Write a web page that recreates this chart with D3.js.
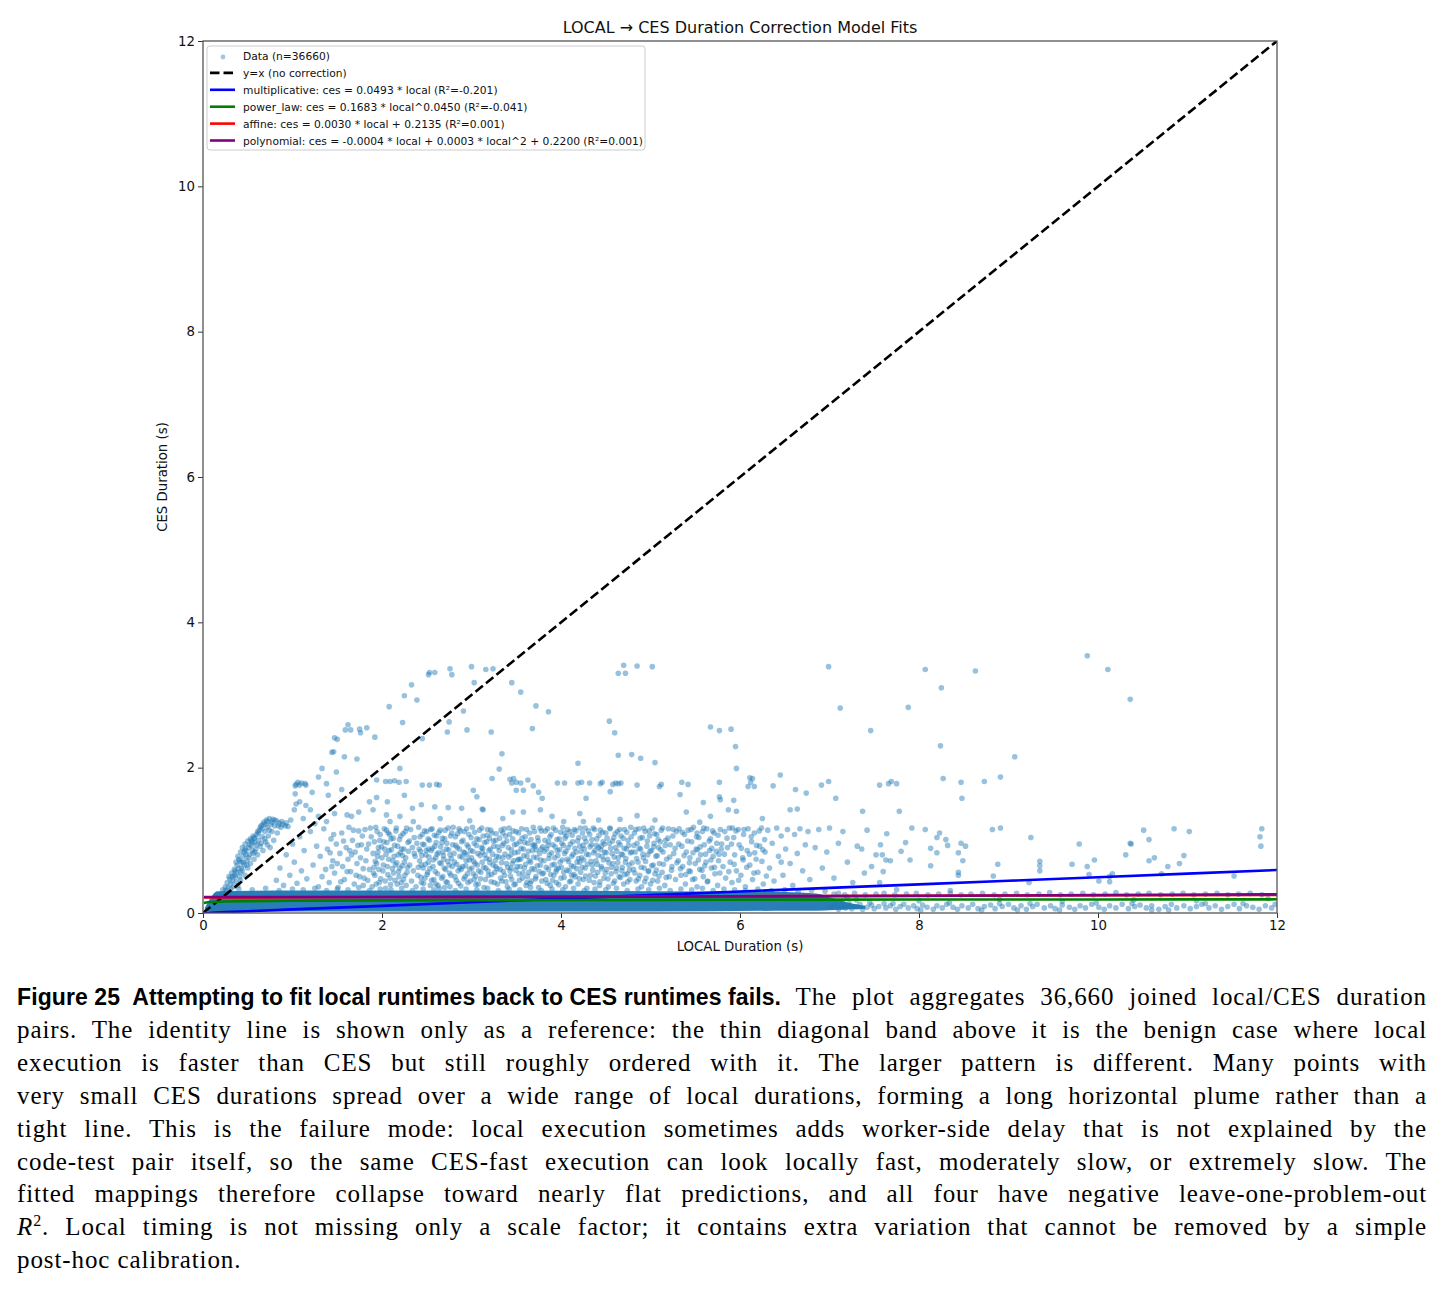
<!DOCTYPE html>
<html>
<head>
<meta charset="utf-8">
<script src="https://cdn.jsdelivr.net/npm/d3@7"></script>
<style>
  body { margin: 0; background: #fff; }
  #chart { position: absolute; left: 0; top: 0; }
  .cap { position: absolute; left: 17px; width: 1410px; font-family: "Liberation Serif", serif; font-size: 25px; color: #000;
         letter-spacing: 0.9px; text-align: justify; text-align-last: justify; white-space: nowrap; line-height: 33px; }
  .cap.last { text-align-last: left; }
  .figlab { display: inline-block; font-family: "Liberation Sans", Arial, sans-serif; font-weight: bold; font-size: 23px;
            letter-spacing: 0.1px; white-space: pre; }
  svg text { font-family: "DejaVu Sans", sans-serif; }
</style>
</head>
<body>
<svg id="chart" width="1444" height="965"></svg>
<div id="caption"></div>
<script>
// axis ticks
var xTicks = [0, 2, 4, 6, 8, 10, 12];
var yTicks = [0, 2, 4, 6, 8, 10, 12];

// solid part of the dense band near zero: [local, lower ces, upper ces]
var bandEnvelope = [[0.02,0.03,0.07],[0.08,0.02,0.20],[0.16,0.02,0.30],[1.0,0.02,0.31],[3.0,0.02,0.31],
  [5.0,0.02,0.30],[6.5,0.03,0.29],[6.85,0.03,0.27],[7.05,0.04,0.20],[7.25,0.05,0.13],[7.4,0.06,0.10]];

// top edge of band
var bandEdge = [[0.25,0.31],[0.4,0.33],[0.55,0.32],[0.7,0.34],[0.85,0.31],[1.0,0.33],[1.12,0.32],[1.25,0.34],[1.38,0.31],
  [1.5,0.33],[1.62,0.32],[1.74,0.35],[1.86,0.31],[1.98,0.33],[2.1,0.32],[2.22,0.34],[2.34,0.31],[2.46,0.33],[2.58,0.32],
  [2.7,0.35],[2.82,0.31],[2.94,0.33],[3.06,0.32],[3.18,0.34],[3.3,0.31],[3.42,0.33],[3.54,0.32],[3.66,0.35],[3.78,0.31],
  [3.9,0.33],[4.02,0.32],[4.14,0.34],[4.26,0.31],[4.38,0.33],[4.5,0.32],[4.62,0.34],[4.74,0.31],[4.86,0.33],[4.98,0.32],
  [5.1,0.34],[5.22,0.31],[5.34,0.33],[5.46,0.32],[5.58,0.34],[5.7,0.31],[5.82,0.33],[5.94,0.32],[6.06,0.31],[6.2,0.33],
  [6.35,0.31],[6.5,0.32],[6.65,0.30],[6.8,0.31],[6.95,0.30],[7.1,0.27],[7.2,0.22],[7.15,0.16]];

// band beyond 7 s, two rows
var tailLow = [[7.02,0.08],[7.06,0.12],[7.10,0.05],[7.13,0.10],[7.18,0.07],[7.22,0.13],[7.25,0.06],[7.30,0.09],[7.34,0.12],
  [7.37,0.05],[7.42,0.08],[7.47,0.11],[7.50,0.06],[7.55,0.09],[7.61,0.13],[7.63,0.07],[7.68,0.10],[7.74,0.05],[7.79,0.09],
  [7.83,0.12],[7.88,0.07],[7.94,0.10],[7.98,0.06],[8.04,0.11],[8.09,0.08],[8.16,0.05],[8.20,0.10],[8.26,0.07],[8.31,0.12],
  [8.38,0.08],[8.43,0.05],[8.48,0.10],[8.55,0.07],[8.60,0.12],[8.66,0.06],[8.73,0.09],[8.80,0.11],[8.85,0.06],[8.93,0.09],
  [9.00,0.12],[9.06,0.07],[9.14,0.10],[9.20,0.05],[9.27,0.09],[9.32,0.12],[9.40,0.07],[9.47,0.10],[9.52,0.06],[9.60,0.11],
  [9.68,0.08],[9.74,0.05],[9.80,0.10],[9.86,0.07],[9.93,0.12],[10.01,0.08],[10.07,0.05],[10.13,0.10],[10.20,0.07],
  [10.27,0.12],[10.34,0.06],[10.41,0.09],[10.47,0.11],[10.54,0.07],[10.60,0.10],[10.68,0.05],[10.75,0.09],[10.82,0.12],
  [10.88,0.07],[10.96,0.10],[11.03,0.06],[11.10,0.09],[11.16,0.12],[11.24,0.07],[11.31,0.10],[11.38,0.05],[11.45,0.09],
  [11.52,0.12],[11.58,0.06],[11.66,0.10],[11.73,0.08],[11.80,0.05],[11.87,0.10],[11.94,0.07],[9.1,0.04],[10.6,0.04],[8.9,0.13],
  [7.45,0.14],[7.71,0.13],[8.02,0.04],[8.34,0.14],[8.70,0.04],[9.24,0.13],[9.57,0.04],[9.98,0.14],[10.38,0.13],[10.79,0.04],
  [11.20,0.13],[11.62,0.13],[11.98,0.12]];
var tailHigh = [[7.05,0.26],[7.17,0.25],[7.28,0.27],[7.40,0.25],[7.52,0.26],[7.61,0.27],[7.73,0.25],[7.86,0.26],[7.97,0.27],
  [8.10,0.25],[8.22,0.26],[8.35,0.27],[8.47,0.25],[8.58,0.26],[8.71,0.27],[8.84,0.25],[8.96,0.26],[9.09,0.27],[9.21,0.25],
  [9.34,0.26],[9.46,0.28],[9.58,0.25],[9.70,0.26],[9.83,0.27],[9.95,0.25],[10.08,0.26],[10.20,0.28],[10.32,0.25],
  [10.45,0.26],[10.57,0.27],[10.70,0.25],[10.83,0.26],[10.95,0.27],[11.07,0.25],[11.20,0.26],[11.33,0.27],[11.45,0.25],
  [11.57,0.26],[11.70,0.27],[11.83,0.25],[7.3,0.18],[8.0,0.17],[8.9,0.19],[9.6,0.16],[10.4,0.18],[11.1,0.17],[11.9,0.2]];

// rising diagonal wedge near the origin
var wedgePts = [[0.22,0.32],[0.25,0.36],[0.27,0.42],[0.28,0.35],[0.30,0.47],[0.31,0.40],[0.32,0.55],[0.33,0.44],[0.34,0.36],
  [0.35,0.60],[0.36,0.50],[0.37,0.43],[0.38,0.66],[0.38,0.56],[0.39,0.38],[0.40,0.74],[0.40,0.62],[0.41,0.50],[0.42,0.84],
  [0.42,0.45],[0.43,0.70],[0.44,0.90],[0.44,0.58],[0.45,0.78],[0.46,0.66],[0.47,0.95],[0.47,0.52],[0.48,0.86],[0.49,0.72],
  [0.50,0.99],[0.50,0.62],[0.51,0.90],[0.52,0.80],[0.53,1.02],[0.53,0.68],[0.54,0.93],[0.55,0.86],[0.56,1.06],[0.57,0.74],
  [0.58,0.97],[0.59,0.88],[0.60,1.08],[0.61,0.80],[0.62,1.00],[0.63,1.14],[0.64,0.92],[0.65,1.20],[0.66,1.05],[0.67,0.86],
  [0.68,1.25],[0.69,1.12],[0.70,0.98],[0.71,1.28],[0.72,1.18],[0.73,1.06],[0.74,1.30],[0.75,0.90],[0.76,1.22],[0.77,1.12],
  [0.78,1.29],[0.79,1.00],[0.80,1.20],[0.82,1.27],[0.83,1.10],[0.85,1.24],[0.87,1.18],[0.89,1.22],[0.92,1.20],[0.95,1.19],
  [0.60,0.94],[0.55,0.98],[0.48,0.80],[0.36,0.58],[0.29,0.50],[0.43,0.62],[0.57,1.03],[0.62,1.10],[0.66,1.16],[0.70,1.22],
  [0.52,0.94],[0.46,0.84],[0.41,0.72],[0.35,0.52],[0.26,0.30],[0.31,0.33],[0.33,0.50],[0.37,0.70],[0.39,0.78],[0.42,0.56],
  [0.45,0.70],[0.47,0.88],[0.49,0.66],[0.51,0.76],[0.54,1.00],[0.56,0.82],[0.58,1.04],[0.61,1.12],[0.64,1.18],[0.67,1.22],
  [0.69,1.02],[0.72,1.26],[0.74,1.14],[0.77,1.25],[0.80,1.28],[0.84,1.20],[0.88,1.26],[0.93,1.24],[0.72,0.94],[0.65,0.96],
  [0.58,0.84]];

// main plume between 0.35 s and 1.2 s
var cloudPts = [[0.82,0.45],[0.86,0.62],[0.9,0.38],[0.93,0.80],[0.97,0.52],[1.0,0.95],[1.02,0.70],[1.05,0.41],[1.08,1.05],
  [1.1,0.58],[1.13,0.86],[1.16,0.47],[1.2,1.12],[1.23,0.66],[1.27,0.92],[1.29,0.36],
  [1.31,0.78],[1.33,0.50],[1.35,1.16],[1.37,0.60],[1.39,0.88],[1.41,0.42],[1.43,1.02],[1.45,0.72],[1.47,0.55],[1.49,0.95],
  [1.51,0.35],[1.53,0.82],[1.55,1.10],[1.56,0.64],[1.58,0.46],[1.60,0.90],[1.62,0.74],[1.63,1.18],[1.65,0.57],[1.67,1.00],
  [1.69,0.40],[1.70,0.84],[1.72,0.68],[1.74,1.13],[1.75,0.50],[1.77,0.94],[1.79,0.61],[1.79,0.38],[1.66,0.80],[1.44,0.64],
  [1.81,1.15],[1.82,0.72],[1.84,0.45],[1.85,0.95],[1.86,0.60],[1.88,1.05],[1.89,0.36],[1.90,0.82],[1.92,0.52],[1.93,1.18],
  [1.94,0.68],[1.96,0.90],[1.97,0.42],[1.98,1.08],[2.00,0.76],[2.01,0.58],[2.02,0.98],[2.04,0.34],[2.05,1.14],[2.06,0.64],
  [2.08,0.86],[2.09,0.48],[2.10,1.02],[2.12,0.72],[2.13,0.55],[2.14,0.93],[2.16,1.17],[2.17,0.40],[2.18,0.80],[2.20,0.62],
  [2.21,1.06],[2.22,0.88],[2.24,0.46],[2.25,0.70],[2.26,1.12],[2.28,0.56],[2.29,0.97],[2.27,0.38],[2.15,0.66],[2.03,0.88],
  [1.91,0.63],[2.19,0.50],[2.07,1.10],[1.95,0.78],[2.23,0.79],
  [2.31,0.66],[2.32,1.15],[2.33,0.44],[2.34,0.90],[2.35,0.58],[2.36,1.04],[2.37,0.78],[2.38,0.36],[2.39,0.96],[2.40,0.52],
  [2.41,1.18],[2.42,0.72],[2.43,0.85],[2.44,0.42],[2.45,1.08],[2.46,0.62],[2.47,0.94],[2.48,0.48],[2.49,0.80],[2.50,1.12],
  [2.51,0.56],[2.52,0.70],[2.53,1.00],[2.54,0.38],[2.55,0.86],[2.56,1.16],[2.57,0.64],[2.58,0.46],[2.59,0.92],[2.60,0.76],
  [2.61,1.06],[2.62,0.54],[2.63,0.83],[2.64,0.34],[2.65,1.14],[2.66,0.68],[2.67,0.97],[2.68,0.50],[2.69,0.74],[2.70,1.02],
  [2.71,0.60],[2.72,0.88],[2.73,0.42],[2.74,1.17],[2.75,0.66],[2.76,0.80],[2.77,0.52],[2.78,1.10],[2.79,0.94],[2.44,0.66],
  [2.52,0.88],[2.60,0.40],[2.68,0.84],[2.36,0.82],[2.76,0.36],
  [2.81,0.70],[2.82,1.05],[2.83,0.45],[2.84,0.90],[2.85,0.58],[2.86,1.16],[2.87,0.78],[2.88,0.37],[2.89,0.98],[2.90,0.64],
  [2.91,0.84],[2.92,1.12],[2.93,0.50],[2.94,0.72],[2.95,0.94],[2.96,0.42],[2.97,1.08],[2.98,0.60],[2.99,0.86],[3.00,0.76],
  [3.01,1.18],[3.02,0.54],[3.03,0.96],[3.04,0.68],[3.05,0.39],[3.06,1.02],[3.07,0.82],[3.08,0.58],[3.09,1.14],[3.10,0.47],
  [3.11,0.90],[3.12,0.70],[3.13,1.06],[3.14,0.35],[3.15,0.80],[3.16,0.62],[3.17,0.98],[3.18,1.15],[3.19,0.52],[3.20,0.74],
  [3.21,0.88],[3.22,0.43],[3.23,1.10],[3.24,0.66],[3.25,0.92],[3.26,0.56],[3.27,1.00],[3.28,0.78],[3.29,0.40],[2.87,0.62],
  [2.95,0.80],[3.03,0.46],[3.12,0.84],[3.20,1.03],[3.27,0.64],
  [3.31,0.86],[3.32,0.60],[3.33,1.14],[3.34,0.44],[3.35,0.76],[3.36,0.96],[3.37,0.52],[3.38,1.06],[3.39,0.68],[3.40,0.36],
  [3.41,0.90],[3.42,1.17],[3.43,0.58],[3.44,0.80],[3.45,0.46],[3.46,1.02],[3.47,0.72],[3.48,0.94],[3.49,0.40],[3.50,1.12],
  [3.51,0.64],[3.52,0.84],[3.53,0.54],[3.54,0.98],[3.55,0.74],[3.56,1.16],[3.57,0.48],[3.58,0.88],[3.59,0.62],[3.60,1.05],
  [3.61,0.38],[3.62,0.78],[3.63,0.96],[3.64,0.56],[3.65,1.10],[3.66,0.70],[3.67,0.44],[3.68,0.86],[3.69,1.18],[3.70,0.60],
  [3.71,0.92],[3.72,0.50],[3.73,0.76],[3.74,1.04],[3.75,0.35],[3.76,0.82],[3.77,0.66],[3.78,1.13],[3.79,0.54],[3.35,1.10],
  [3.44,0.62],[3.53,0.74],[3.62,0.42],[3.70,0.94],[3.78,0.88],
  [3.81,0.72],[3.82,1.00],[3.83,0.46],[3.84,0.88],[3.85,1.16],[3.86,0.60],[3.87,0.80],[3.88,0.38],[3.89,1.08],[3.90,0.66],
  [3.91,0.94],[3.92,0.52],[3.93,0.76],[3.94,1.14],[3.95,0.42],[3.96,0.86],[3.97,0.62],[3.98,1.02],[3.99,0.70],[4.00,0.48],
  [4.01,0.96],[4.02,1.18],[4.03,0.56],[4.04,0.82],[4.05,0.36],[4.06,1.06],[4.07,0.74],[4.08,0.90],[4.09,0.58],[4.10,1.12],
  [4.11,0.44],[4.12,0.78],[4.13,0.98],[4.14,0.64],[4.15,1.15],[4.16,0.50],[4.17,0.84],[4.18,0.70],[4.19,0.40],[4.20,1.04],
  [4.21,0.92],[4.22,0.56],[4.23,0.76],[4.24,1.10],[4.25,0.46],[4.26,0.88],[4.27,0.62],[4.28,0.98],[4.29,0.34],[3.86,0.98],
  [3.95,0.60],[4.04,1.10],[4.12,0.52],[4.21,0.70],[4.27,1.17],
  [4.31,0.80],[4.32,1.08],[4.33,0.52],[4.34,0.94],[4.35,0.66],[4.36,1.17],[4.37,0.42],[4.38,0.86],[4.39,0.72],[4.40,1.02],
  [4.41,0.56],[4.42,0.90],[4.43,0.38],[4.44,1.14],[4.45,0.64],[4.46,0.78],[4.47,0.98],[4.48,0.48],[4.49,0.84],[4.50,1.10],
  [4.51,0.60],[4.52,0.74],[4.53,0.36],[4.54,0.96],[4.55,1.16],[4.56,0.54],[4.57,0.82],[4.58,0.68],[4.59,1.04],[4.60,0.44],
  [4.61,0.90],[4.62,0.62],[4.63,1.12],[4.64,0.76],[4.65,0.50],[4.66,0.94],[4.67,1.06],[4.68,0.58],[4.69,0.80],[4.70,0.40],
  [4.71,1.15],[4.72,0.70],[4.73,0.88],[4.74,0.54],[4.75,1.00],[4.76,0.66],[4.77,0.46],[4.78,1.18],[4.79,0.84],[4.45,0.92],
  [4.81,0.60],[4.82,1.10],[4.83,0.84],[4.84,0.44],[4.85,0.96],[4.86,0.70],[4.87,1.16],[4.88,0.52],[4.89,0.88],[4.90,0.36],
  [4.91,1.04],[4.92,0.76],[4.93,0.62],[4.94,1.12],[4.95,0.48],[4.96,0.92],[4.97,0.80],[4.98,0.58],[4.99,1.06],[5.00,0.40],
  [5.01,0.86],[5.02,1.17],[5.03,0.66],[5.04,0.96],[5.05,0.54],[5.06,0.78],[5.07,1.08],[5.08,0.44],[5.09,0.90],[5.10,0.68],
  [5.12,1.14],[5.13,0.56],[5.14,0.84],[5.16,0.38],[5.17,1.00],[5.18,0.74],[5.20,1.16],[5.21,0.50],[5.22,0.94],[5.24,0.64],
  [5.25,1.06],[5.26,0.82],[5.28,0.46],[5.29,1.12],[5.11,0.98],
  [5.31,0.72],[5.32,1.16],[5.34,0.52],[5.35,0.92],[5.36,0.64],[5.38,1.08],[5.39,0.40],[5.40,0.84],[5.42,1.14],[5.43,0.58],
  [5.44,0.76],[5.46,0.98],[5.47,0.46],[5.48,1.18],[5.50,0.68],[5.51,0.88],[5.52,0.36],[5.54,1.04],[5.55,0.60],[5.56,0.80],
  [5.58,1.12],[5.59,0.50],[5.60,0.94],[5.62,0.70],[5.63,1.16],[5.64,0.44],[5.66,0.86],[5.67,1.02],[5.68,0.62],[5.70,0.78],
  [5.71,1.10],[5.72,0.54],[5.74,0.96],[5.75,0.38],[5.76,0.72],[5.78,1.15],[5.79,0.88],[5.52,1.10],
  [5.81,0.64],[5.83,1.12],[5.84,0.48],[5.86,0.90],[5.88,1.17],[5.89,0.70],[5.91,0.42],[5.93,1.04],[5.94,0.80],[5.96,0.58],
  [5.98,1.15],[5.99,0.94],[6.01,0.52],[6.03,0.76],[6.04,1.08],[6.06,0.36],[6.08,0.86],[6.09,1.16],[6.11,0.66],[6.13,0.98],
  [6.14,0.46],[6.16,1.10],[6.18,0.74],[6.20,0.56],[6.22,0.92],[6.24,1.17],[6.26,0.40],[6.28,0.84],
  [6.31,1.14],[6.33,0.62],[6.36,0.96],[6.38,0.44],[6.41,1.17],[6.43,0.78],[6.46,1.06],[6.48,0.52],[6.51,0.88],[6.53,1.15],
  [6.56,0.68],[6.59,0.38],[6.61,1.08],[6.64,0.82],[6.67,1.16],[6.70,0.58],[6.73,0.94],[6.76,1.12],[6.78,0.46],[6.46,0.70],
  [6.84,0.90],[6.88,1.15],[6.92,0.62],[6.97,0.84],[7.00,1.17],[7.05,0.48],[7.10,0.96],[7.15,1.12],[7.20,0.70],[7.26,0.42],
  [7.31,0.92],[7.36,0.88],[7.42,1.14],[7.47,0.64],[7.52,0.80],[7.57,0.94]];

// second pass over the densest part of the plume
var cloudPts2 = [[1.42,0.83],[1.46,1.08],[1.50,0.68],[1.54,0.43],[1.57,0.99],[1.61,0.57],[1.64,0.86],[1.68,1.14],[1.71,0.52],
  [1.73,0.93],[1.76,0.76],[1.78,1.06],[1.80,0.48],[1.83,0.88],[1.87,1.17],
  [1.905,0.55],[1.915,0.98],[1.925,0.71],[1.935,0.40],[1.945,1.12],[1.955,0.84],[1.965,0.60],[1.975,1.00],[1.985,0.47],
  [1.995,0.91],[2.015,0.66],[2.025,1.16],[2.035,0.44],[2.045,0.81],[2.055,0.97],[2.065,0.53],[2.075,0.74],[2.085,1.08],
  [2.095,0.39],[2.105,0.87],[2.115,0.61],[2.125,1.03],[2.135,0.78],[2.145,0.45],[2.155,1.13],[2.165,0.69],[2.175,0.92],
  [2.185,0.57],[2.195,1.01],[2.205,0.83],[2.215,0.42],[2.225,0.65],[2.235,1.09],[2.245,0.88],[2.255,0.52],[2.265,0.76],
  [2.275,1.17],[2.285,0.63],[2.295,0.85],[2.305,0.99],
  [2.405,0.63],[2.415,0.88],[2.425,1.05],[2.435,0.49],[2.445,0.79],[2.455,0.95],[2.465,0.41],[2.475,1.13],[2.485,0.67],
  [2.495,0.86],[2.505,0.53],[2.515,1.02],[2.525,0.77],[2.535,0.61],[2.545,1.15],[2.555,0.45],[2.565,0.89],[2.575,0.73],
  [2.585,1.07],[2.595,0.57],[2.605,0.97],[2.615,0.81],[2.625,0.38],[2.635,1.11],[2.645,0.69],[2.655,0.91],[2.665,0.48],
  [2.675,1.03],[2.685,0.79],[2.695,0.62],[2.705,1.14],[2.715,0.43],[2.725,0.96],[2.735,0.71],[2.745,0.87],[2.755,0.55],
  [2.765,1.06],[2.775,0.75],[2.785,0.64],[2.795,1.18],[2.805,0.82],[2.815,0.50],[2.825,0.93],[2.835,0.67],[2.845,1.09],
  [2.855,0.41],[2.865,0.88],[2.875,1.13],[2.885,0.60],[2.895,0.77],[2.905,1.00],[2.915,0.47],[2.925,0.83],[2.935,0.65],
  [2.945,1.16],[2.955,0.54],[2.965,0.91],[2.975,0.73],[2.985,0.44],[2.995,1.04],[3.005,0.62],[3.015,0.85],[3.025,0.71],
  [3.035,1.11],[3.045,0.51],[3.055,0.93],[3.065,0.66],[3.075,0.40],[3.085,1.01],[3.095,0.79],[3.105,0.56],[3.115,1.17],
  [3.125,0.89],[3.135,0.63],[3.145,0.97],[3.155,0.46],[3.165,0.75],[3.175,1.07],[3.185,0.58],[3.195,0.86],[3.205,0.69],
  [3.215,1.14],[3.225,0.53],[3.235,0.81],[3.245,0.99],[3.255,0.42],[3.265,0.72],[3.275,1.09],[3.285,0.61],[3.295,0.91],
  [3.305,0.77],[3.315,1.03],[3.325,0.48],[3.335,0.69],[3.345,0.93],[3.355,0.57],[3.365,1.16],[3.375,0.81],[3.385,0.43],
  [3.395,0.99],[3.405,0.63],[3.415,0.77],[3.425,1.08],[3.435,0.51],[3.445,0.87],[3.455,0.68],[3.465,1.13],[3.475,0.39],
  [3.485,0.83],[3.495,0.59],[3.505,0.95],[3.515,0.73],[3.525,1.10],[3.535,0.45],[3.545,0.64],[3.555,0.89],[3.565,1.03],
  [3.575,0.55],[3.585,0.79],[3.595,0.97],[3.605,0.67],[3.615,1.15],[3.625,0.50],[3.635,0.85],[3.645,0.72],[3.655,0.41],
  [3.665,1.01],[3.675,0.61],[3.685,0.93],[3.695,0.77],[3.705,1.12],[3.715,0.47],[3.725,0.87],[3.735,0.65],[3.745,0.99],
  [3.755,0.57],[3.765,1.17],[3.775,0.73],[3.785,0.44],[3.795,0.91],
  [3.805,0.55],[3.815,0.85],[3.825,1.13],[3.835,0.63],[3.845,0.41],[3.855,0.93],[3.865,0.75],[3.875,1.05],[3.885,0.53],
  [3.895,0.83],[3.905,0.45],[3.915,1.17],[3.925,0.67],[3.935,0.91],[3.945,0.57],[3.955,1.01],[3.965,0.79],[3.975,0.39],
  [3.985,0.87],[3.995,1.11],[4.005,0.63],[4.015,0.73],[4.025,0.93],[4.035,0.49],[4.045,1.03],[4.055,0.85],[4.065,0.59],
  [4.075,1.15],[4.085,0.71],[4.095,0.43],[4.105,0.95],[4.115,0.65],[4.125,1.07],[4.135,0.81],[4.145,0.53],[4.155,0.89],
  [4.165,1.13],[4.175,0.61],[4.185,0.99],[4.195,0.75],[4.205,0.47],[4.215,1.17],[4.225,0.85],[4.235,0.63],[4.245,0.93],
  [4.255,0.73],[4.265,1.03],[4.275,0.51],[4.285,0.81],[4.295,0.67],
  [4.305,1.13],[4.315,0.45],[4.325,0.91],[4.335,0.71],[4.345,1.01],[4.355,0.59],[4.365,0.83],[4.375,1.15],[4.385,0.51],
  [4.395,0.93],[4.405,0.67],[4.415,0.79],[4.425,1.07],[4.435,0.43],[4.445,0.87],[4.455,0.61],[4.465,1.11],[4.475,0.73],
  [4.485,0.95],[4.495,0.55],[4.505,0.83],[4.515,1.03],[4.525,0.47],[4.535,0.69],[4.545,1.17],[4.555,0.89],[4.565,0.63],
  [4.575,0.99],[4.585,0.41],[4.595,0.77],[4.605,1.09],[4.615,0.57],[4.625,0.85],[4.635,0.69],[4.645,0.97],[4.655,1.15],
  [4.665,0.49],[4.675,0.81],[4.685,0.63],[4.695,1.03],[4.705,0.89],[4.715,0.53],[4.725,0.75],[4.735,1.11],[4.745,0.43],
  [4.755,0.93],[4.765,0.59],[4.775,0.83],[4.785,1.05],[4.795,0.69],
  [4.815,0.93],[4.825,0.55],[4.835,1.15],[4.845,0.75],[4.865,0.47],[4.875,0.89],[4.885,1.03],[4.895,0.63],[4.915,0.81],
  [4.925,1.17],[4.935,0.43],[4.945,0.71],[4.965,0.99],[4.975,0.57],[4.985,1.13],[4.995,0.85],[5.015,0.65],[5.025,0.45],
  [5.035,0.91],[5.045,1.09],[5.065,0.59],[5.075,0.79],[5.085,1.01],[5.095,0.51],[5.115,0.87],[5.135,1.17],[5.145,0.67],
  [5.165,0.93],[5.175,0.49],[5.195,1.03],[5.215,0.77],[5.235,0.59],[5.255,1.15],[5.275,0.89],[5.295,0.69],
  [5.315,0.95],[5.335,0.61],[5.355,1.11],[5.375,0.79],[5.395,0.53],[5.415,0.99],[5.435,0.69],[5.455,1.15],[5.475,0.83],
  [5.495,0.47],[5.515,1.05],[5.535,0.73],[5.555,0.91],[5.575,0.59],[5.595,1.17],[5.615,0.81],[5.635,0.43],[5.655,0.99],
  [5.675,0.73],[5.695,1.13],[5.715,0.63],[5.735,0.85],[5.755,1.07],[5.775,0.55],[5.795,0.95],[5.445,0.57],[5.525,0.87],
  [5.605,0.65],[5.685,0.89],[5.765,0.81],
  [5.825,0.81],[5.855,1.03],[5.875,0.57],[5.905,0.95],[5.935,0.67],[5.955,1.13],[5.985,0.45],[6.015,0.89],[6.045,1.15],
  [6.075,0.63],[6.105,0.81],[6.125,1.05],[6.155,0.55],[6.185,0.93],[6.215,1.13],[6.245,0.71],[6.275,1.01],[6.295,0.51],
  [5.915,1.17],[6.035,0.73],[6.165,0.83],[6.255,0.87]];

// sparse points to the right of the plume
var tailPts = [[7.59,0.80],[7.63,0.73],[7.68,0.72],[7.80,0.85],[7.90,0.73],[8.13,0.65],[8.20,0.83],[8.32,0.93],[8.44,0.83],
  [8.49,0.72],[8.44,0.56],[8.44,0.52],[8.88,0.67],[8.83,0.51],[9.35,0.71],[9.35,0.65],[9.35,0.58],[9.23,0.42],[9.71,0.67],
  [9.88,0.64],[9.96,0.73],[9.90,0.53],[10.01,0.44],[10.13,0.50],[10.13,0.43],[10.16,0.54],[10.31,0.80],[10.37,0.95],
  [10.57,0.72],[10.63,0.76],[10.78,0.64],[10.91,0.68],[10.96,0.79],[11.52,0.51],[11.82,0.92],[10.71,0.54],[7.60,0.57],
  [7.39,0.55],[7.56,0.42],[7.75,0.32],[8.35,0.31],[7.92,1.17],[8.07,1.15],[8.23,1.10],[8.20,1.04],[8.30,1.01],[7.85,0.97],
  [8.47,0.96],[8.52,0.92],[8.82,1.15],[8.91,1.17],[9.25,1.04],[9.79,0.95],[10.51,1.14],[10.57,1.01],[10.36,0.96],
  [10.85,1.16],[11.02,1.12],[11.83,1.16],[11.81,1.05],[7.37,1.40],[7.64,1.09],[7.78,1.40],[8.13,0.89]];

// high outliers above the plume
var outlierPts = [[2.53,3.31],[2.52,3.28],[2.59,3.31],[2.76,3.36],[2.78,3.28],[3.00,3.39],[3.16,3.35],[3.24,3.36],[2.33,3.14],
  [2.25,2.99],[2.39,2.93],[2.08,2.84],[2.23,2.62],[3.03,3.17],[3.45,3.17],[3.55,3.04],[2.91,2.78],[2.75,2.63],[2.73,2.49],
  [2.95,2.52],[3.22,2.49],[2.45,2.40],[3.72,2.85],[3.86,2.77],[3.68,2.54],[4.54,2.64],[4.64,3.30],[4.64,2.17],[3.34,2.19],
  [3.31,1.98],[4.19,2.06],[1.62,2.59],[1.59,2.52],[1.65,2.52],[1.75,2.53],[1.76,2.48],[1.83,2.55],[1.92,2.42],[1.47,2.41],
  [1.50,2.39],[1.44,2.21],[1.46,2.22],[1.58,2.15],[1.72,2.12],[1.33,1.99],[1.49,1.94],[1.29,1.87],[1.38,1.78],[1.04,1.77],
  [1.06,1.80],[1.08,1.76],[1.10,1.79],[1.03,1.75],[1.14,1.78],[1.15,1.76],[1.03,1.64],[1.04,1.50],[1.15,1.48],[1.02,1.42],
  [2.20,1.99],[2.04,1.81],[2.09,1.81],[2.14,1.82],[2.19,1.80],[2.27,1.81],[1.94,1.83],[2.25,1.62],[1.94,1.59],[2.06,1.53],
  [1.86,1.53],[2.34,1.44],[2.45,1.76],[2.53,1.76],[2.61,1.77],[2.64,1.76],[3.02,1.69],[3.06,1.60],[3.13,1.42],[3.23,1.85],
  [3.43,1.84],[3.47,1.85],[3.50,1.80],[3.45,1.79],[3.55,1.79],[3.63,1.83],[3.69,1.75],[3.75,1.66],[3.79,1.58],[3.50,1.69],
  [3.58,1.69],[3.96,1.79],[4.04,1.79],[4.19,1.79],[4.23,1.80],[4.32,1.79],[4.46,1.80],[4.61,1.79],[4.64,1.78],[4.28,1.58],
  [4.55,1.67],[3.46,1.39],[3.58,1.39],[3.77,1.42],[3.12,1.43],[2.74,1.45],[2.89,1.44],[2.44,1.49],[2.59,1.46],
  [4.70,3.41],[4.72,3.30],[4.85,3.40],[5.02,3.39],[6.99,3.39],[8.07,3.35],[8.63,3.33],[8.25,3.10],[7.12,2.82],[7.88,2.83],
  [7.46,2.51],[8.24,2.30],[8.27,1.85],[8.47,1.80],[8.48,1.58],[4.60,2.48],[4.79,2.18],[4.89,2.13],[5.05,2.07],[5.67,2.56],
  [5.77,2.51],[5.90,2.53],[5.95,2.29],[5.96,1.99],[4.44,1.78],[4.58,1.77],[4.67,1.79],[4.85,1.76],[5.10,1.74],[5.12,1.77],
  [5.35,1.80],[5.42,1.77],[5.33,1.63],[5.77,1.80],[5.77,1.60],[6.09,1.74],[6.11,1.86],[6.14,1.85],[6.12,1.80],[6.16,1.74],
  [6.45,1.90],[6.37,1.75],[6.62,1.70],[6.74,1.65],[6.91,1.76],[6.99,1.81],[7.07,1.58],[7.56,1.76],[7.66,1.78],[7.69,1.81],
  [7.75,1.78],[5.59,1.52],[5.67,1.33],[5.78,1.56],[5.87,1.42],[5.93,1.55],[5.96,1.40],[6.56,1.42],[6.64,1.43],[5.40,1.39],
  [4.85,1.34],[4.66,1.29],[9.88,3.54],[10.11,3.35],[10.36,2.94],[9.07,2.15],[8.91,1.87],[8.73,1.81],
  [1.08,1.53],[1.20,1.42],[1.29,1.33],[1.25,1.23],[1.38,1.26],[1.47,1.37],[1.61,1.35],[1.66,1.33],[1.74,1.39],[1.90,1.42],
  [2.05,1.35],[2.09,1.26],[2.20,1.33],[2.35,1.26],[4.03,1.26],[4.25,1.26],[4.42,1.28],[4.21,1.37],[1.12,1.30],[0.98,1.28],
  [1.40,1.62],[1.22,1.66],[1.55,1.70],[2.65,1.30],[2.98,1.27],[3.35,1.30],[3.90,1.33],[5.05,1.28],[5.55,1.25],[6.25,1.30]];

// fitted model coefficients (from the legend)
var fitX = [0.01, 0.05, 0.1, 0.25, 0.5, 1, 2, 3, 4, 5, 6, 7, 8, 9, 10, 11, 12];
var multCoef = 0.0493;
var powCoef = [0.1683, 0.0450];
var affCoef = [0.0030, 0.2135];
var polyCoef = [-0.0004, 0.0003, 0.2200];

var legendLabels = ["Data (n=36660)", "y=x (no correction)",
  "multiplicative: ces = 0.0493 * local (R\u00b2=-0.201)",
  "power_law: ces = 0.1683 * local^0.0450 (R\u00b2=-0.041)",
  "affine: ces = 0.0030 * local + 0.2135 (R\u00b2=0.001)",
  "polynomial: ces = -0.0004 * local + 0.0003 * local^2 + 0.2200 (R\u00b2=0.001)"];
var legendColors = ["#1f77b4", "#000000", "#0000ff", "#008000", "#ff0000", "#800080"];

var svg = d3.select("#chart"),
    margin = {top: 41, left: 203},
    width = 1074, height = 872;

var x = d3.scaleLinear().domain([0, 12]).range([0, width]),
    y = d3.scaleLinear().domain([0, 12]).range([height, 0]);

var g = svg.append("g").attr("transform", "translate(" + margin.left + "," + margin.top + ")");

svg.append("defs").append("clipPath").attr("id", "clip")
  .append("rect").attr("width", width).attr("height", height);

var plot = g.append("g").attr("clip-path", "url(#clip)");

// dense band
plot.append("path")
  .datum(bandEnvelope)
  .attr("fill", "#1f77b4")
  .attr("fill-opacity", 0.95)
  .attr("d", d3.area().curve(d3.curveMonotoneX)
    .x(function(d) { return x(d[0]); })
    .y0(function(d) { return y(d[1]); })
    .y1(function(d) { return y(d[2]); }));

var allPts = [].concat(bandEdge, tailLow, tailHigh, wedgePts, cloudPts, cloudPts2, tailPts, outlierPts);
plot.selectAll(".pt")
  .data(allPts)
  .enter().append("circle")
    .attr("class", "pt")
    .attr("cx", function(d) { return x(d[0]); })
    .attr("cy", function(d) { return y(d[1]); })
    .attr("r", 2.8)
    .attr("fill", "#1f77b4")
    .attr("fill-opacity", 0.46);

// identity
plot.append("line")
  .attr("x1", x(0)).attr("y1", y(0)).attr("x2", x(12)).attr("y2", y(12))
  .attr("stroke", "#000").attr("stroke-width", 2.6).attr("stroke-dasharray", "9.5,4");

var fits = [
  {c: legendColors[2], f: function(v) { return multCoef * v; }},
  {c: legendColors[3], f: function(v) { return powCoef[0] * Math.pow(v, powCoef[1]); }},
  {c: legendColors[4], f: function(v) { return affCoef[0] * v + affCoef[1]; }},
  {c: legendColors[5], f: function(v) { return polyCoef[0] * v + polyCoef[1] * v * v + polyCoef[2]; }}
];
var line = d3.line().x(function(d) { return x(d[0]); }).y(function(d) { return y(d[1]); });
fits.forEach(function(m) {
  plot.append("path")
    .datum(fitX.map(function(v) { return [v, m.f(v)]; }))
    .attr("fill", "none").attr("stroke", m.c).attr("stroke-width", 2.6)
    .attr("d", line);
});

// axes
var xAxis = g.append("g").attr("transform", "translate(0," + height + ")")
  .call(d3.axisBottom(x).tickValues(xTicks).tickSize(5).tickPadding(3));
var yAxis = g.append("g")
  .call(d3.axisLeft(y).tickValues(yTicks).tickSize(5).tickPadding(3));
[xAxis, yAxis].forEach(function(a) {
  a.select(".domain").remove();
  a.selectAll(".tick line").attr("stroke", "#333").attr("stroke-width", 1);
  a.selectAll(".tick text").attr("font-family", "DejaVu Sans").attr("font-size", 13.3).attr("fill", "#111");
});
g.append("rect").attr("width", width).attr("height", height)
  .attr("fill", "none").attr("stroke", "#555").attr("stroke-width", 1.3);

svg.append("text").attr("x", margin.left + width / 2).attr("y", 951)
  .attr("text-anchor", "middle").attr("font-size", 13.3).attr("fill", "#111").text("LOCAL Duration (s)");
svg.append("text").attr("transform", "translate(167," + (margin.top + height / 2) + ") rotate(-90)")
  .attr("text-anchor", "middle").attr("font-size", 13.3).attr("fill", "#111").text("CES Duration (s)");
svg.append("text").attr("x", margin.left + width / 2).attr("y", 33)
  .attr("text-anchor", "middle").attr("font-size", 16).attr("fill", "#111")
  .text("LOCAL \u2192 CES Duration Correction Model Fits");

// legend
var leg = svg.append("g").attr("transform", "translate(207,46)");
leg.append("rect").attr("width", 438).attr("height", 104).attr("rx", 3)
  .attr("fill", "#fff").attr("fill-opacity", 0.85).attr("stroke", "#ccc");
legendLabels.forEach(function(t, i) {
  var ly = 10 + i * 16.9;
  if (i === 0) {
    leg.append("circle").attr("cx", 16).attr("cy", ly + 1).attr("r", 2.4)
      .attr("fill", legendColors[0]).attr("fill-opacity", 0.42);
  } else {
    leg.append("line").attr("x1", 3).attr("x2", 28).attr("y1", ly).attr("y2", ly)
      .attr("stroke", legendColors[i]).attr("stroke-width", 2.6)
      .attr("stroke-dasharray", i === 1 ? "9.5,4" : null);
  }
  leg.append("text").attr("x", 36).attr("y", ly + 4).attr("font-size", 10.7).attr("fill", "#111").text(t);
});

// caption
var capLines = [
  "The plot aggregates 36,660 joined local/CES duration",
  "pairs. The identity line is shown only as a reference: the thin diagonal band above it is the benign case where local",
  "execution is faster than CES but still roughly ordered with it. The larger pattern is different. Many points with",
  "very small CES durations spread over a wide range of local durations, forming a long horizontal plume rather than a",
  "tight line. This is the failure mode: local execution sometimes adds worker-side delay that is not explained by the",
  "code-test pair itself, so the same CES-fast execution can look locally fast, moderately slow, or extremely slow. The",
  "fitted mappings therefore collapse toward nearly flat predictions, and all four have negative leave-one-problem-out",
  ". Local timing is not missing only a scale factor; it contains extra variation that cannot be removed by a simple",
  "post-hoc calibration."
];
var cap = d3.select("#caption");
capLines.forEach(function(t, i) {
  var div = cap.append("div").attr("class", "cap" + (i === capLines.length - 1 ? " last" : ""))
    .style("top", (980 + i * 32.9) + "px");
  if (i === 0) {
    div.append("span").attr("class", "figlab").text("Figure 25  Attempting to fit local runtimes back to CES runtimes fails.");
    div.append("span").text(" " + t);
  } else if (i === 7) {
    div.append("span").html("<i>R</i><sup style='font-size:16px;line-height:0'>2</sup>");
    div.append("span").text(t);
  } else {
    div.text(t);
  }
});
</script>
</body>
</html>
